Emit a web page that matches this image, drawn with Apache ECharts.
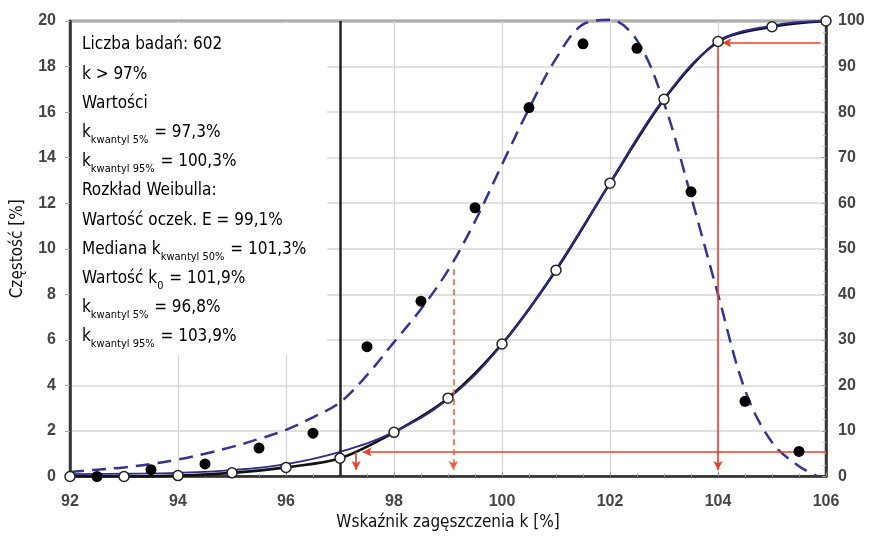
<!DOCTYPE html>
<html>
<head>
<meta charset="utf-8">
<script src="https://cdn.jsdelivr.net/npm/echarts@6/dist/echarts.min.js"></script>
<style>html,body{margin:0;padding:0;background:#fff}#c{width:869px;height:538px}</style>
</head>
<body>
<div id="c"></div>
<script>
// ---- data ----
const freqX = [92.5, 93.5, 94.5, 95.5, 96.5, 97.5, 98.5, 99.5, 100.5, 101.5, 102.5, 103.5, 104.5, 105.5];
const freqY = [0, 0.3, 0.55, 1.25, 1.9, 5.7, 7.7, 11.8, 16.2, 19.0, 18.8, 12.5, 3.3, 1.1];

const cumX = [92, 93, 94, 95, 96, 97, 98, 99, 100, 101, 102, 103, 104, 105, 106];
const cumY = [0, 0, 0.2, 0.8, 2.0, 4.0, 9.7, 17.2, 29.1, 45.3, 64.4, 82.8, 95.5, 98.75, 100];

const cdfX = [92, 93, 94, 95, 96, 97, 98, 99, 100, 101, 102, 103, 104, 105, 106];
const cdfY = [0.5, 0.6, 0.8, 1.4, 2.7, 5.4, 9.8, 17.0, 29.0, 45.5, 64.5, 83.0, 95.3, 99.0, 100];

const pdfX = [92, 92.5, 93, 93.5, 94, 94.5, 95, 95.5, 96, 96.5, 97, 97.5, 98, 98.5, 99, 99.5, 100, 100.5, 101, 101.5, 102, 102.5, 103, 103.5, 104, 104.5, 105, 105.5, 105.85];
const pdfY = [0.2, 0.3, 0.4, 0.55, 0.75, 1.0, 1.3, 1.65, 2.05, 2.6, 3.25, 4.45, 5.9, 7.35, 9.05, 11.2, 13.7, 16.15, 18.35, 19.85, 20.05, 19.15, 16.4, 12.3, 8.0, 3.8, 1.5, 0.45, 0];

const limitK = 97;           // k > 97%
const q5 = 97.3, meanE = 99.1, q95 = 104;
const q5Level = 5.4, q95Level = 95.2, arrowTip = 1.4, meanTop = 45.5;

const xTicks = { min: 92, max: 106, interval: 2 };
const yLeft = { min: 0, max: 20, interval: 2 };
const yRight = { min: 0, max: 100, interval: 10 };

const infoLines = [
  '{t|Liczba badań: 602}',
  '{t|k > 97%}',
  '{t|Wartości}',
  '{t|k}{s|kwantyl 5%}{t| = 97,3%}',
  '{t|k}{s|kwantyl 95%}{t| = 100,3%}',
  '{t|Rozkład Weibulla:}',
  '{t|Wartość oczek. E = 99,1%}',
  '{t|Mediana k}{s|kwantyl 50%}{t| = 101,3%}',
  '{t|Wartość k}{s|0}{t| = 101,9%}',
  '{t|k}{s|kwantyl 5%}{t| = 96,8%}',
  '{t|k}{s|kwantyl 95%}{t| = 103,9%}'
];

const FONT = "'DejaVu Sans Condensed', 'Liberation Sans Narrow', 'Liberation Sans', sans-serif";
const LBL = "'Liberation Sans', Arial, sans-serif";
const zip = (a, b) => a.map((v, i) => [v, b[i]]);

const chart = echarts.init(document.getElementById('c'), null, { renderer: 'canvas' });

const textEls = infoLines.map((s, i) => ({
  type: 'text', x: 82, y: 45 + i * 29.2, z: 10,
  style: {
    text: s, verticalAlign: 'middle',
    rich: {
      t: { fontFamily: FONT, fontSize: 17, color: '#111', lineHeight: 20 },
      s: { fontFamily: FONT, fontSize: 11, color: '#111', padding: [15, 1, 0, 0] }
    }
  }
}));

const red = '#e8412c';
const arrowLine = (p1, p2, dashed) => ([
  { coord: p1, symbol: 'none', lineStyle: { color: dashed ? '#f0603c' : red, width: 1.6, type: dashed ? [6, 4] : 'solid' } },
  { coord: p2, symbol: 'arrow', symbolSize: [7, 9] }
]);

chart.setOption({
  animation: false,
  backgroundColor: '#fff',
  grid: { left: 70, right: 43, top: 21, bottom: 61.5, show: true, borderColor: '#333', borderWidth: 2.5, backgroundColor: 'transparent' },
  graphic: [
    { type: 'rect', shape: { x: 72, y: 23, width: 255, height: 332 }, style: { fill: '#fff' }, z: 1, silent: true }
  ].concat(textEls),
  xAxis: {
    type: 'value', min: xTicks.min, max: xTicks.max, interval: xTicks.interval,
    name: 'Wskaźnik zagęszczenia k [%]', nameLocation: 'middle', nameGap: 35,
    nameTextStyle: { fontFamily: FONT, fontSize: 17, color: '#111' },
    axisLine: { show: true, lineStyle: { color: '#333', width: 2.5 } },
    axisTick: { show: true, inside: true, length: 4, lineStyle: { color: '#888' } },
    minorTick: { show: true, splitNumber: 4, length: 3, lineStyle: { color: '#aaa' } },
    axisLabel: { fontFamily: LBL, fontWeight: 'bold', fontSize: 16, color: '#444', margin: 17 },
    splitLine: { show: true, lineStyle: { color: '#d6d6d6', width: 1.3 } }
  },
  yAxis: [
    {
      type: 'value', min: yLeft.min, max: yLeft.max, interval: yLeft.interval,
      name: 'Częstość [%]', nameLocation: 'middle', nameGap: 44,
      nameTextStyle: { fontFamily: FONT, fontSize: 17, color: '#111' },
      axisLine: { show: true, lineStyle: { color: '#333', width: 2.5 } },
      axisTick: { show: true, length: 5, lineStyle: { color: '#aaa' } },
      axisLabel: { fontFamily: LBL, fontWeight: 'bold', fontSize: 16, color: '#444', margin: 14 },
      splitLine: { show: true, lineStyle: { color: '#d6d6d6', width: 1.6 } }
    },
    {
      type: 'value', min: yRight.min, max: yRight.max, interval: yRight.interval, position: 'right',
      axisLine: { show: true, lineStyle: { color: '#333', width: 2.5 } },
      axisTick: { show: true, inside: true, length: 4, lineStyle: { color: '#999' } },
      minorTick: { show: true, splitNumber: 4, length: 3, lineStyle: { color: '#bbb' } },
      axisLabel: { fontFamily: LBL, fontWeight: 'bold', fontSize: 16, color: '#444', margin: 12 },
      splitLine: { show: false }
    }
  ],
  series: [
    {
      name: 'limit', type: 'line', data: [], yAxisIndex: 0,
      markLine: {
        silent: true, symbol: 'none', label: { show: false },
        lineStyle: { color: '#222', width: 2.5, type: 'solid' },
        data: [{ xAxis: limitK }]
      }
    },
    {
      name: 'red', type: 'line', data: [], yAxisIndex: 1,
      markLine: {
        silent: true, label: { show: false }, animation: false,
        data: [
          arrowLine([106, q5Level], [q5 + 0.12, q5Level]),
          arrowLine([q5, q5Level], [q5, arrowTip]),
          arrowLine([meanE, meanTop], [meanE, arrowTip], true),
          arrowLine([q95, q95Level + 0.3], [q95, arrowTip]),
          arrowLine([105.9, q95Level], [q95 + 0.08, q95Level])
        ]
      }
    },
    {
      name: 'pdf', type: 'line', yAxisIndex: 0, data: zip(pdfX, pdfY), smooth: 0.35, showSymbol: false, clip: false,
      lineStyle: { color: '#35358e', width: 2.5, type: [14, 8] }, z: 3
    },
    {
      name: 'cum', type: 'line', yAxisIndex: 1, data: zip(cumX, cumY), smooth: 0.3, showSymbol: false,
      lineStyle: { color: '#111', width: 2.6 }, z: 3
    },
    {
      name: 'cdf', type: 'line', yAxisIndex: 1, data: zip(cdfX, cdfY), smooth: 0.4, showSymbol: false,
      lineStyle: { color: '#2d2d8a', width: 1.8 }, z: 4
    },
    {
      name: 'cumPts', type: 'scatter', yAxisIndex: 1, data: zip(cumX, cumY), symbolSize: 10, clip: false,
      itemStyle: { color: '#fff', borderColor: '#222', borderWidth: 1.5, opacity: 1 }, z: 6
    },
    {
      name: 'freq', type: 'scatter', yAxisIndex: 0, data: zip(freqX, freqY), symbolSize: 11, clip: false,
      itemStyle: { color: '#000', opacity: 1 }, z: 6
    }
  ]
});
</script>
</body>
</html>
